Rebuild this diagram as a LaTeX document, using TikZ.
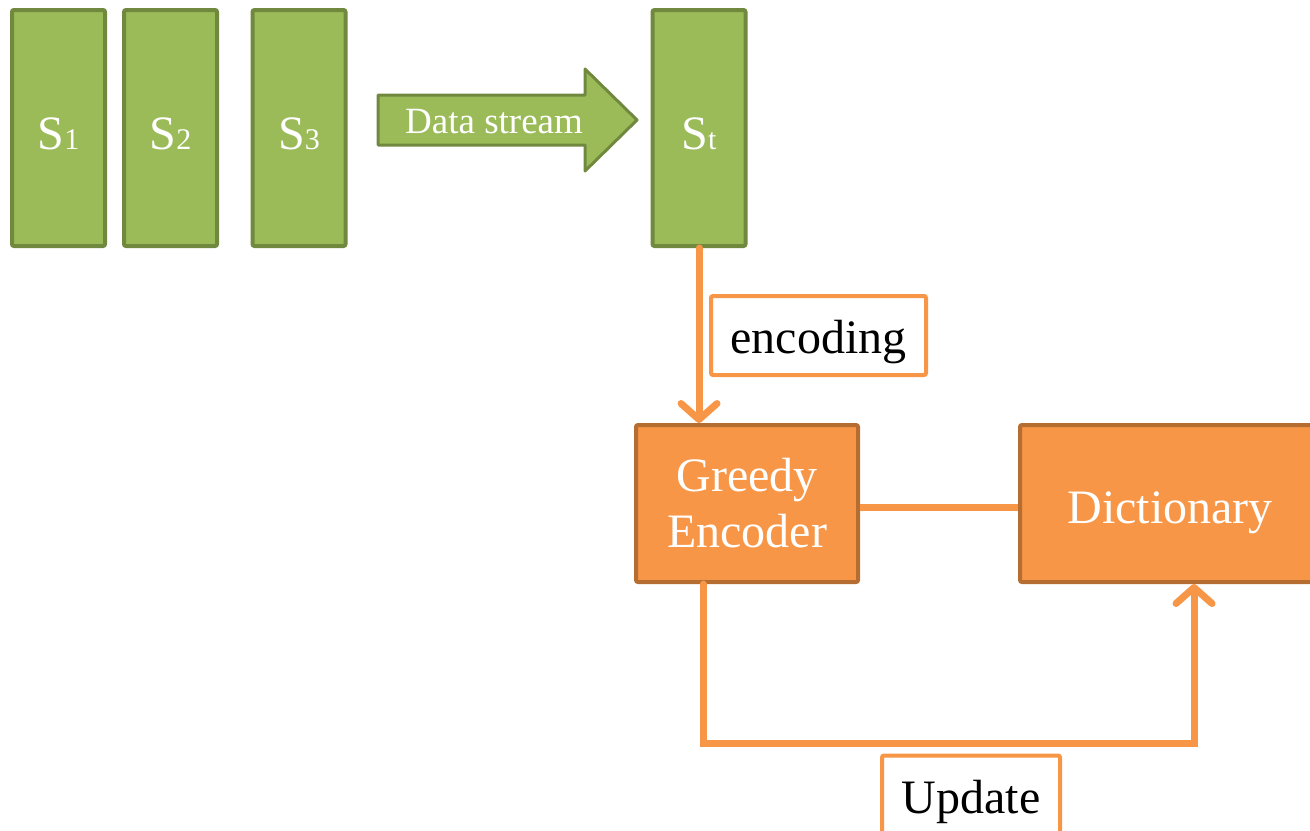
\documentclass[tikz,border=0pt]{standalone}
\usepackage{fontspec}
\setmainfont{Liberation Serif}
\newfontfamily\tnr{Liberation Serif}
\usepackage{xcolor}
\usepackage{tikz}
\usetikzlibrary{positioning, arrows.meta}

\definecolor{frameGreen}{HTML}{9BBB59}
\definecolor{frameGreenDark}{HTML}{71893F}
\definecolor{procOrange}{HTML}{F79646}
\definecolor{procOrangeDark}{HTML}{B66D31}

\tikzset{
  frame/.style={draw=frameGreenDark, fill=frameGreen, line width=2pt, rounded corners=1pt,
    minimum width=46.5pt, minimum height=118pt, text height=21pt, text depth=0pt,
    text=white, font=\tnr\fontsize{24}{28}\selectfont},
  proc/.style={draw=procOrangeDark, fill=procOrange, line width=2pt, rounded corners=1pt,
    minimum height=78.5pt, align=center, text=white, font=\tnr\fontsize{24}{28}\selectfont},
  tag/.style={draw=procOrange, fill=white, line width=2pt, rounded corners=1pt,
    minimum height=39.5pt, text height=21pt, text depth=3pt,
    text=black, font=\tnr\fontsize{24}{28}\selectfont},
  conn/.style={draw=procOrange, line width=3.5pt, line cap=round},
  tip/.style={-{Straight Barb[length=8pt,width=18pt,round]}}
}

\newcommand{\sidx}[1]{{\fontsize{15}{15}\selectfont #1}}

\begin{document}
\begin{tikzpicture}[x=0.5pt, y=-0.5pt]
  \useasboundingbox (0,0) rectangle (1310,830);
  \clip (0,0) rectangle (1310,830);

  % frames of the stream
  \foreach \x/\i in {58.5/1, 170.5/2, 299/3} {
    \node[frame] (s\i) at (\x,128) {S\sidx{\i}};
  }
  \node[frame] (st) at (699,128) {S\sidx{t}};

  % data stream arrow
  \draw[draw=frameGreenDark, fill=frameGreen, line width=1.5pt, line join=round]
    (378,95) -- (585,95) -- (585,69) -- (637,120) -- (585,171) -- (585,145) -- (378,145) -- cycle;
  \node[text=white, font=\tnr\fontsize{18.5}{20}\selectfont] (stream) at (494,122) {Data stream};

  % encoder and dictionary
  \node[proc, minimum width=111pt] (greedy) at (747,503.5) {Greedy\\Encoder};
  \node[proc, minimum width=150pt, text height=23pt, text depth=3pt] (dict) at (1170,503.5) {Dictionary};

  % connectors
  \draw[conn, tip] (st.south) -- (st.south |- greedy.north);
  \draw[conn, line cap=butt] ([yshift=-2pt]greedy.east) -- ([yshift=-2pt]dict.west);
  \coordinate (upd) at (1194,743);
  \draw[conn, tip] ([xshift=-22pt]greedy.south) |- (upd) -- (upd |- dict.south);

  % labels
  \node[tag, minimum width=107.5pt] (enc) at (818.5,335.5) {encoding};
  \node[tag, minimum width=89pt] (update) at (971,795) {Update};
\end{tikzpicture}
\end{document}
